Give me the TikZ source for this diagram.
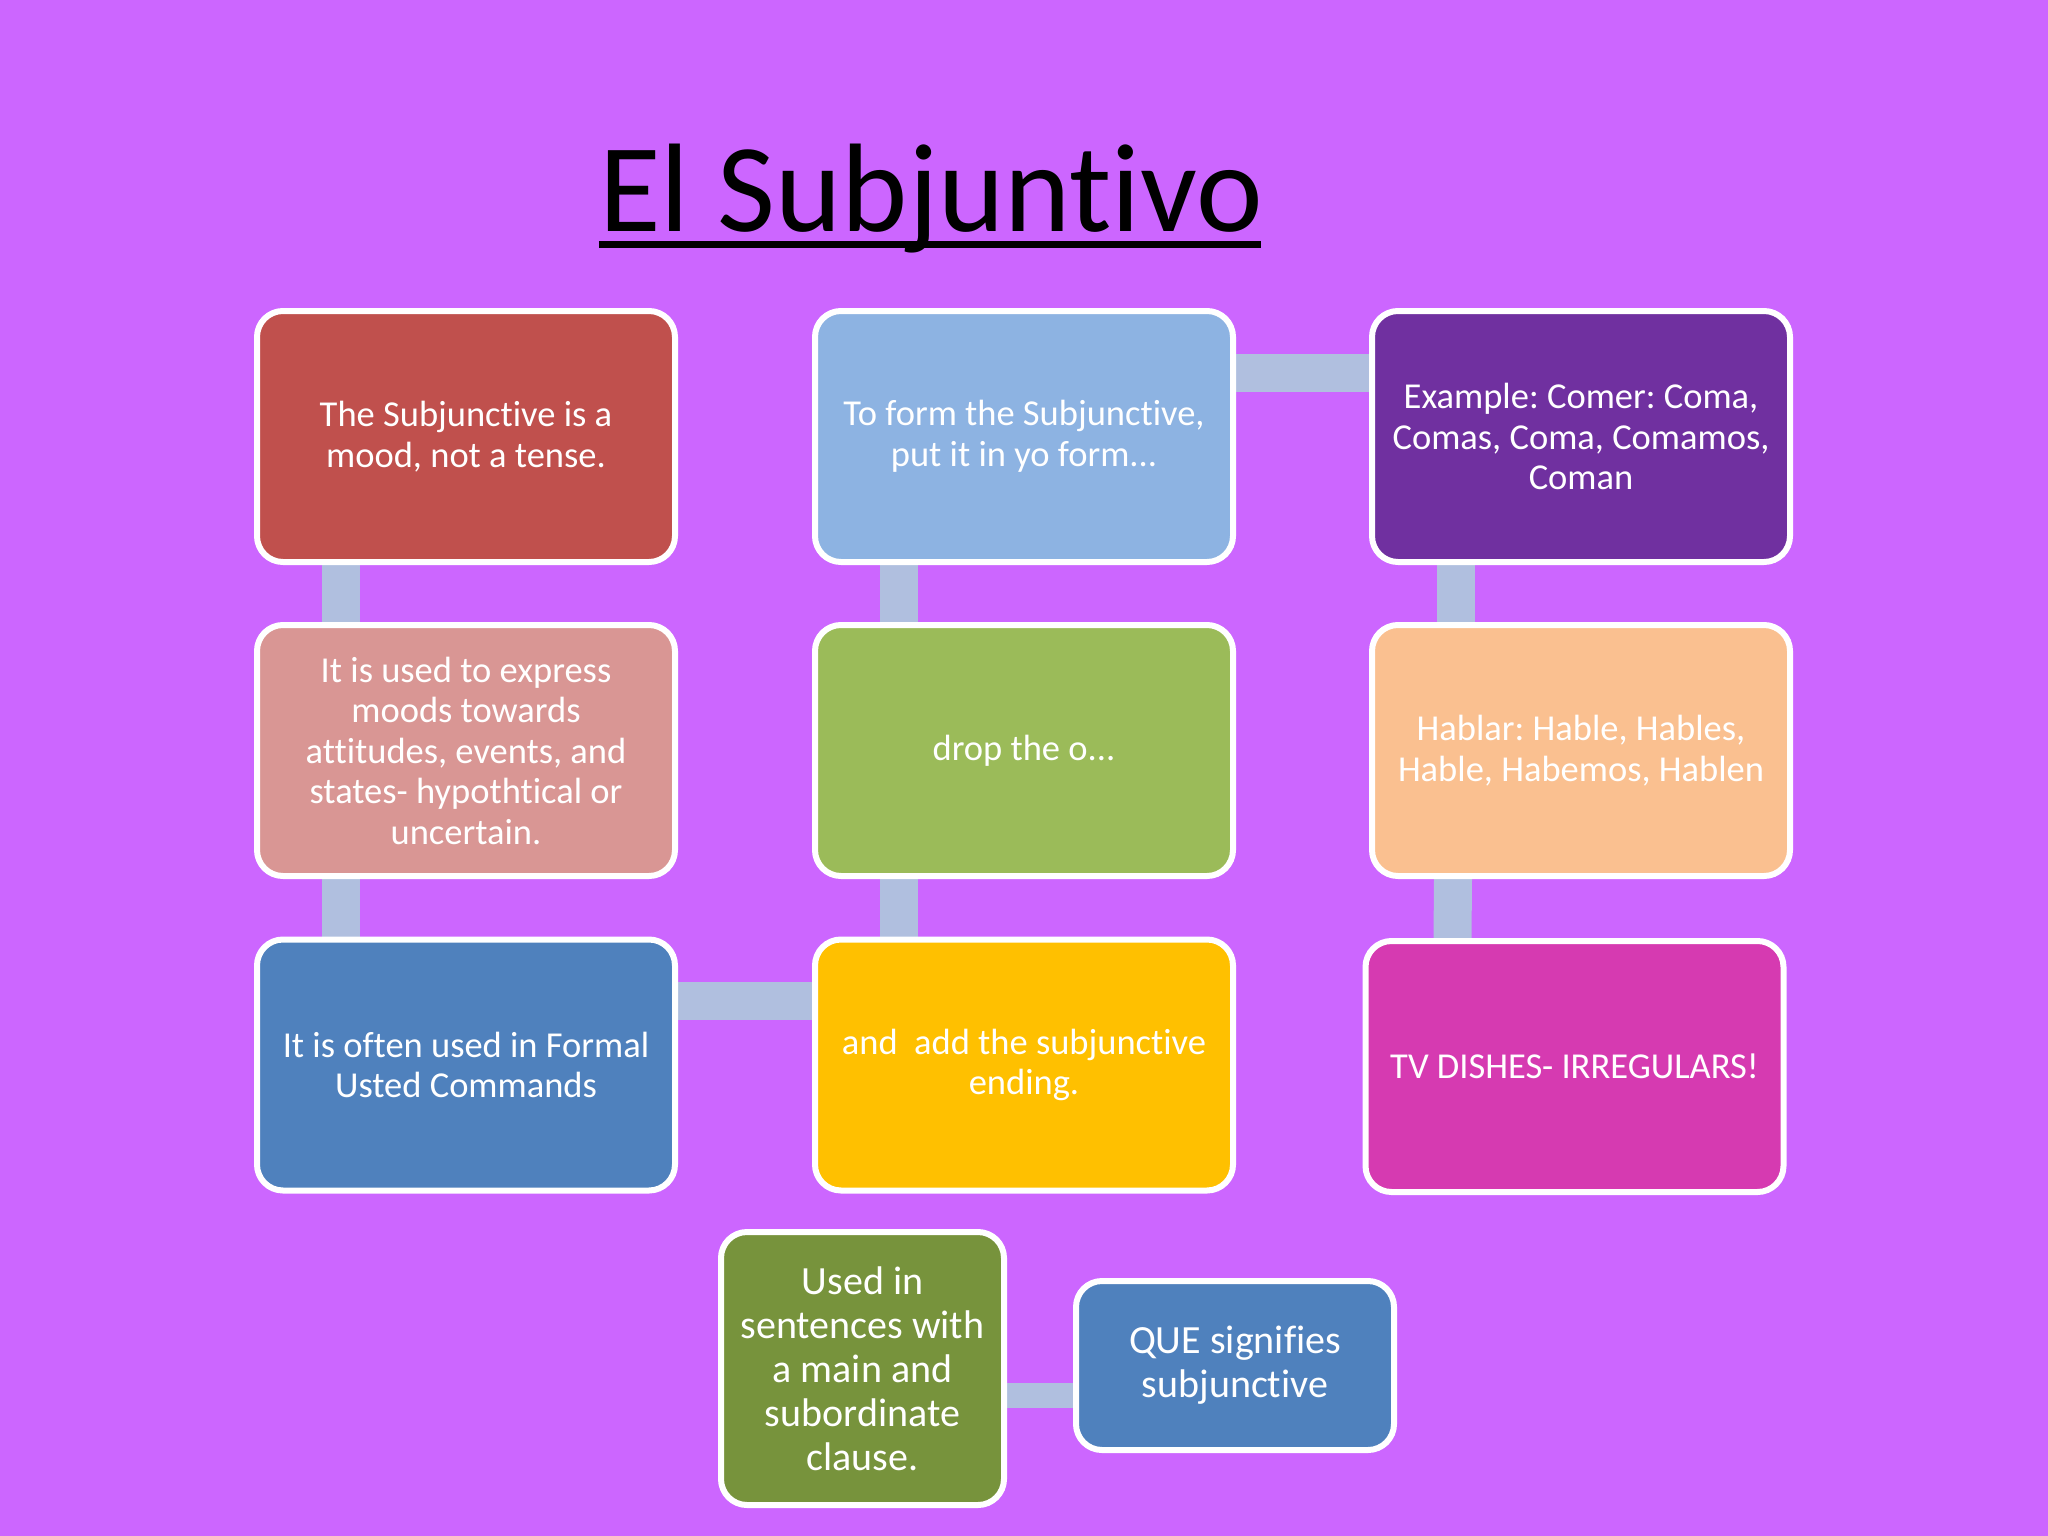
\documentclass[tikz,border=0pt]{standalone}
\usepackage{fontspec}
\setmainfont{Carlito}[Ligatures={NoCommon}]
\frenchspacing
\usetikzlibrary{calc,backgrounds}
\definecolor{bgc}{HTML}{CC66FF}
\definecolor{connc}{HTML}{B0BFDF}
\definecolor{cred}{HTML}{C0504D}
\definecolor{clblue}{HTML}{8DB3E2}
\definecolor{cpurple}{HTML}{7030A0}
\definecolor{cpink}{HTML}{D99694}
\definecolor{cgreen}{HTML}{9BBB59}
\definecolor{cpeach}{HTML}{FAC090}
\definecolor{cblue}{HTML}{4F81BD}
\definecolor{cyellow}{HTML}{FFC000}
\definecolor{cmagenta}{HTML}{D63AB1}
\definecolor{colive}{HTML}{77933C}
\begin{document}
\begin{tikzpicture}[x=1pt,y=-1pt,
  box/.style={draw=white, line width=6pt, rounded corners=26pt,
    minimum width=418pt, minimum height=251pt, text=white, align=center,
    font=\fontsize{36.5}{40.5}\selectfont\frenchspacing, inner sep=0pt},
  bigtext/.style={font=\fontsize{40}{44}\selectfont\frenchspacing},
  conn/.style={draw=connc, line width=38pt},
  thinconn/.style={draw=connc, line width=25pt}]
\useasboundingbox (0,0) rectangle (2048,1536);
\node[font=\fontsize{126}{150}\selectfont, inner sep=0pt, anchor=base] (title) at (931,231) {El Subjuntivo};
\draw[line width=7pt] ($(title.base west)+(0,13)$) -- ($(title.base east)+(-2,13)$);

\node[box, fill=cred] (n1) at (466,436.5) {The Subjunctive is a\\mood, not a tense.};
\node[box, fill=clblue] (n2) at (1024,436.5) {To form the Subjunctive,\\put it in yo form.{}.{}.};
\node[box, fill=cpurple] (n3) at (1581,436.5) {Example: Comer: Coma,\\Comas, Coma, Comamos,\\Coman};
\node[box, fill=cpink] (n4) at (466,750.5) {It is used to express\\moods towards\\attitudes, events, and\\states- hypothtical or\\uncertain.};
\node[box, fill=cgreen] (n5) at (1024,750.5) {drop the o.{}.{}.};
\node[box, fill=cpeach] (n6) at (1581,750.5) {Hablar: Hable, Hables,\\Hable, Habemos, Hablen};
\node[box, fill=cblue] (n7) at (466,1065) {It is often used in Formal\\Usted Commands};
\node[box, fill=cyellow] (n8) at (1024,1065) {and\ \ add the subjunctive\\ending.};
\node[box, fill=cmagenta] (n9) at (1574.5,1066.5) {TV DISHES- IRREGULARS!};
\node[box, bigtext, fill=colive, minimum width=283pt, minimum height=273pt] (n10) at (862.5,1368.5) {Used in\\sentences with\\a main and\\subordinate\\clause.};
\node[box, bigtext, fill=cblue, minimum width=318pt, minimum height=169pt] (n11) at (1235,1365.5) {QUE signifies\\subjunctive};

\begin{pgfonlayer}{background}
\fill[bgc] (0,0) rectangle (2048,1536);
\draw[conn] ($(n1.south)+(-125,0)$) -- ($(n4.north)+(-125,0)$);
\draw[conn] ($(n4.south)+(-125,0)$) -- ($(n7.north)+(-125,0)$);
\draw[conn] ($(n7.east)+(0,-64)$) -- ($(n8.west)+(0,-64)$);
\draw[conn] ($(n8.north)+(-125,0)$) -- ($(n5.south)+(-125,0)$);
\draw[conn] ($(n5.north)+(-125,0)$) -- ($(n2.south)+(-125,0)$);
\draw[conn] ($(n2.east)+(0,-64)$) -- ($(n3.west)+(0,-64)$);
\draw[conn] ($(n3.south)+(-125,0)$) -- ($(n6.north)+(-125,0)$);
\draw[conn] ($(n6.south)+(-128,0)$) -- ($(n9.north)+(-122,0)$);
\draw[thinconn] ($(n10.east)+(0,26.5)$) -- ($(n11.west)+(0,29.5)$);
\end{pgfonlayer}
\end{tikzpicture}
\end{document}
